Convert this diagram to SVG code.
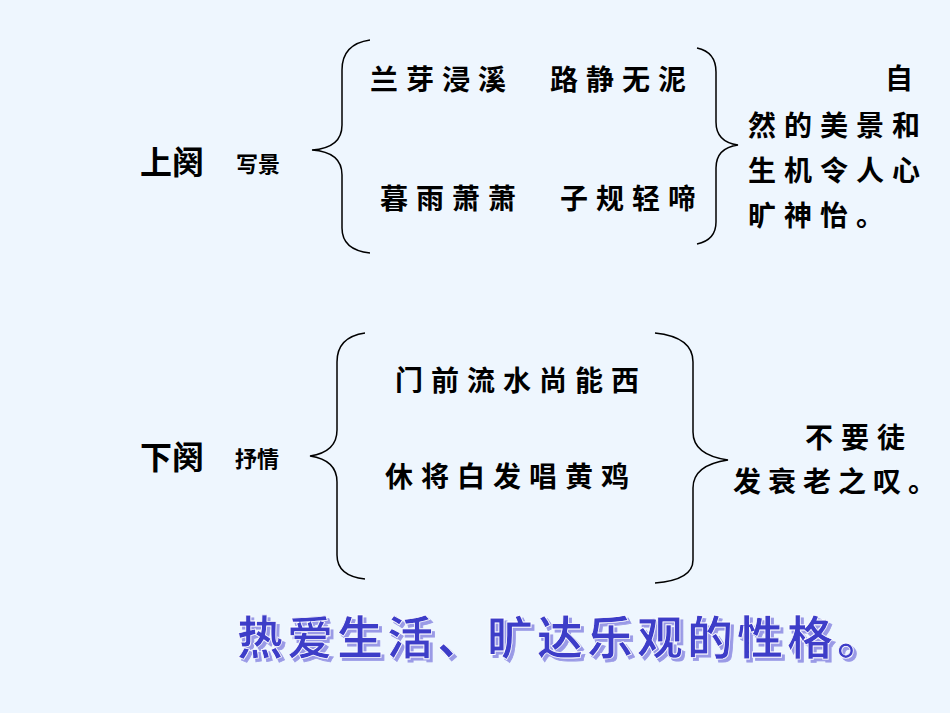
<svg xmlns="http://www.w3.org/2000/svg" width="950" height="713" viewBox="0 0 950 713">
<defs>
<filter id="sh" x="-5%" y="-20%" width="110%" height="140%"><feDropShadow dx="3" dy="3" stdDeviation="0.5" flood-color="#9a9ae6"/></filter>
</defs>
<style>
.t{font-family:"Noto Sans CJK SC",sans-serif;fill:#000;font-weight:bold}
.b{fill:none;stroke:#000;stroke-width:1.5}
.big{font-family:"Noto Sans CJK SC",sans-serif;font-size:46px;font-weight:bold;letter-spacing:4px}
</style>
<rect width="950" height="713" fill="#eef6fe"/>
<g id="connectors">
<path class="b" d="M370,40 Q342,44 342,70 L342,125 Q342,148 312,150 Q342,152 342,175 L342,228 Q342,250 370,253"/>
<path class="b" d="M697,48 Q716,52 716,72 L716,122 Q716,142 738,145 Q716,148 716,168 L716,222 Q716,240 697,244"/>
<path class="b" d="M365,333 Q337,337 337,362 L337,430 Q337,452 310,456 Q337,460 337,482 L337,555 Q337,576 365,579"/>
<path class="b" d="M655,333 Q693,337 693,362 L693,432 Q693,455 728,460 Q693,465 693,488 L693,560 Q693,580 655,583"/>
</g>
<g id="upper">
<text class="t" x="140" y="174" font-size="32">上阕</text>
<text class="t" x="236" y="172" font-size="22">写景</text>
<text class="t" x="370" y="90" font-size="28" letter-spacing="8">兰芽浸溪　路静无泥</text>
<text class="t" x="380" y="209" font-size="28" letter-spacing="8">暮雨萧萧　子规轻啼</text>
<text class="t" x="885" y="89" font-size="28">自</text>
<text class="t" x="748" y="136" font-size="28" letter-spacing="8">然的美景和</text>
<text class="t" x="748" y="181" font-size="28" letter-spacing="8">生机令人心</text>
<text class="t" x="748" y="226" font-size="28" letter-spacing="8">旷神怡。</text>
</g>
<g id="lower">
<text class="t" x="140" y="469" font-size="32">下阕</text>
<text class="t" x="235" y="467" font-size="22">抒情</text>
<text class="t" x="395" y="391" font-size="28" letter-spacing="8">门前流水尚能西</text>
<text class="t" x="385" y="487" font-size="28" letter-spacing="8">休将白发唱黄鸡</text>
<text class="t" x="805" y="448" font-size="28" letter-spacing="8">不要徒</text>
<text class="t" x="733" y="492" font-size="28" letter-spacing="7">发衰老之叹。</text>
</g>
<g id="summary">
<text class="big" x="237" y="654" fill="#3c3cc8" stroke="#ffffff" stroke-width="0.8" filter="url(#sh)">热爱生活、旷达乐观的性格。</text>
</g>
</svg>
